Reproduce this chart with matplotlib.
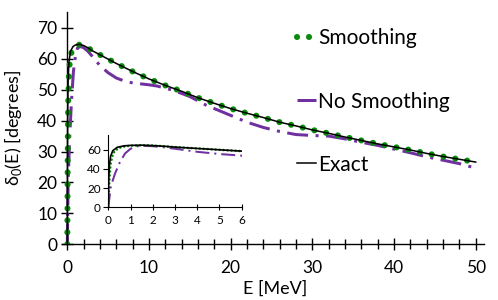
import matplotlib
matplotlib.use("Agg")
import matplotlib.pyplot as plt
import numpy as np

plt.rcParams['font.family'] = ['Lato', 'DejaVu Sans']
plt.rcParams['mathtext.fontset'] = 'custom'
plt.rcParams['mathtext.rm'] = 'Lato'

# ---- data ----
E_exact = [0, 0.02, 0.05, 0.1, 0.2, 0.4, 0.7, 1.0, 1.5, 2, 2.5, 3, 4, 5, 6, 8, 10, 12, 14, 16,
           18, 20, 22, 24, 26, 28, 30, 32, 34, 36, 38, 40, 42, 44, 46, 48, 50]
d_exact = [0, 30, 44, 53, 59, 62.5, 64.0, 64.5, 64.7, 64.3, 63.6, 62.7, 61.3, 59.9, 58.5, 55.9,
           53.5, 51.4, 49.5, 47.4, 45.6, 43.9, 42.4, 41.0, 39.5, 38.3, 37.0, 35.9, 34.7, 33.6,
           32.5, 31.5, 30.5, 29.4, 28.4, 27.5, 26.6]

E_smooth = [0, 0.05, 0.1, 0.2, 0.3, 0.5, 0.75, 1.0, 1.5, 2, 2.5, 3, 4, 5, 6, 8, 10, 12, 14, 16,
            18, 20, 22, 24, 26, 28, 30, 32, 34, 36, 38, 40, 42, 44, 46, 48, 50]
d_smooth = [0, 30, 45, 55, 59, 62, 63.5, 64.2, 64.6, 64.3, 63.6, 62.7, 61.3, 59.9, 58.5, 55.9,
            53.5, 51.4, 49.5, 47.4, 45.6, 43.9, 42.4, 41.0, 39.5, 38.3, 37.0, 35.9, 34.7, 33.6,
            32.5, 31.5, 30.5, 29.4, 28.4, 27.5, 26.6]

E_nosm = [0, 0.05, 0.1, 0.2, 0.3, 0.5, 0.75, 1.0, 1.25, 1.6, 2, 2.5, 3, 4, 5, 6, 7, 8, 9, 10,
          11, 12, 13, 14, 15, 16, 17, 18, 19, 20, 21, 22, 24, 26, 28, 30, 32, 34, 36, 38, 40,
          42, 44, 46, 48, 49.5]
d_nosm = [0, 10, 20, 28, 35, 46, 56, 61, 63.5, 64, 63.6, 62.5, 61, 57.8, 55.5, 53.8, 52.8, 52.2,
          51.9, 51.6, 51.2, 50.5, 49.8, 48.8, 47.8, 46.4, 45.0, 43.9, 42.8, 41.7, 40.6, 39.5,
          37.8, 36.5, 35.5, 35.2, 35.0, 34.1, 33.0, 32.0, 30.8, 29.6, 28.3, 27.2, 26.1, 25.0]

x_ticks = [0, 10, 20, 30, 40, 50]
y_ticks = [0, 10, 20, 30, 40, 50, 60, 70]
inset_x_ticks = [0, 1, 2, 3, 4, 5, 6]
inset_y_ticks = [0, 20, 40, 60]

GREEN = '#0a8a0a'
PURPLE = '#7030a0'

fig = plt.figure(figsize=(4.98, 3.00), dpi=100)
ax = fig.add_axes([0.1237, 0.1857, 0.848, 0.7727])

def draw(a, lw_g, gap_g, lw_p, lw_k):
    a.plot(E_nosm, d_nosm, color=PURPLE, lw=lw_p, linestyle=(0, (7, 2.5, 1, 2.5)),
           dash_capstyle='butt', label='No Smoothing', zorder=2)
    a.plot(E_smooth, d_smooth, color=GREEN, lw=lw_g, linestyle=(0, (0.01, gap_g)),
           dash_capstyle='round', label='Smoothing', zorder=3)
    a.plot(E_exact, d_exact, color='black', lw=lw_k, label='Exact', zorder=4)

draw(ax, 4.4, 1.95, 2.16, 1.1)
ax.set_xlim(-0.7, 51)
ax.set_ylim(0, 75)
for s in ['top', 'right']:
    ax.spines[s].set_visible(False)
ax.spines['left'].set_position(('data', 0))
ax.spines['left'].set_linewidth(1.0)
ax.spines['bottom'].set_linewidth(1.0)
ax.set_xticks(x_ticks)
ax.set_xticks(np.arange(0, 51, 2), minor=True)
ax.set_yticks(y_ticks)
ax.tick_params(axis='both', which='major', direction='inout', length=8.6, width=1.0,
               labelsize=12.5, pad=3)
ax.tick_params(axis='x', which='major', pad=7)
ax.tick_params(axis='x', which='minor', direction='inout', length=6.5, width=1.0)
ax.set_xlabel('E [MeV]', fontsize=13, labelpad=0)
ax.xaxis.set_label_coords(0.505, -0.155)
ax.set_ylabel('δ$_\\mathregular{0}$(E) [degrees]', fontsize=13, labelpad=2)
ax.yaxis.set_label_coords(-0.09, 0.5)

handles, labels = ax.get_legend_handles_labels()
order = [1, 0, 2]
ax.legend([handles[i] for i in order], [labels[i] for i in order], frameon=False,
          loc='upper left', bbox_to_anchor=(0.512, 1.012), fontsize=15, handlelength=0.95,
          handletextpad=0.1, labelspacing=2.07)

ins = fig.add_axes([0.2175, 0.309, 0.2679, 0.24])
draw(ins, 1.9, 1.5, 1.44, 1.2)
ins.set_xlim(0, 6)
ins.set_ylim(0, 75)
for s in ['top', 'right']:
    ins.spines[s].set_visible(False)
ins.set_xticks(inset_x_ticks)
ins.set_yticks(inset_y_ticks)
ins.tick_params(axis='x', direction='inout', length=5, width=0.8, labelsize=8.5, pad=3)
ins.tick_params(axis='y', direction='out', length=3.5, width=0.8, labelsize=8.5, pad=2)
ins.patch.set_alpha(0)

fig.savefig('out.png', dpi=100)
